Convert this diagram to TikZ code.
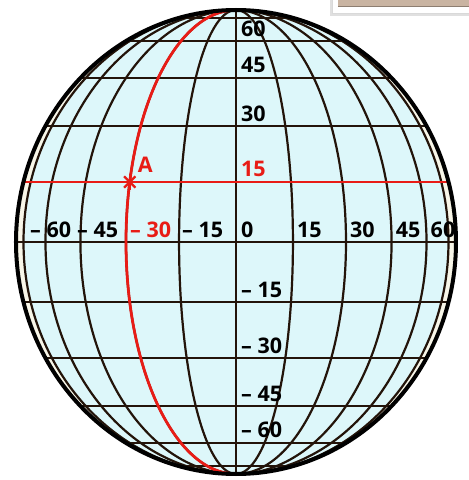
\documentclass[tikz,border=0pt]{standalone}
\usepackage{fontspec}
\setmainfont{Open Sans}
\usetikzlibrary{math}
\definecolor{gcyan}{RGB}{221,247,250}
\definecolor{gcream}{RGB}{248,246,232}
\definecolor{gline}{RGB}{35,20,10}
\definecolor{gred}{RGB}{232,28,22}
\definecolor{gtan}{RGB}{201,180,162}

\begin{document}
\begin{tikzpicture}[x=1pt,y=1pt,
  grid/.style={color=gline,line width=2.2pt},
  redline/.style={color=gred,line width=2.8pt},
  lbl/.style={font=\bfseries\fontsize{21.5}{24}\selectfont,inner sep=0pt,anchor=base west}]

\tikzmath{
\Rx = 220;
\Ry = 232;
\Rin = \Rx*sin(75);
}
\useasboundingbox (-236,-238) rectangle (233,242);

%caption box, cut off at the top
\fill[black!12] (94,226) rectangle (236,242);
\filldraw[fill=white,draw=black!15] (96,229) rectangle (240,246);
\fill[gtan] (102,235) rectangle (240,246);
\draw[color=gtan!70!black,line width=1pt] (102,235.5) -- (236,235.5);

%globe
\fill[gcream] (0,0) ellipse[x radius=\Rx,y radius=\Ry];
\fill[gcyan] (0,0) ellipse[x radius=\Rin,y radius=\Ry];

%parallels
\foreach \p in {-75,-60,...,75}
  \draw[grid] ({-\Rx*cos(\p)},{\Ry*sin(\p)}) -- ({\Rx*cos(\p)},{\Ry*sin(\p)});
%meridians
\draw[grid] (0,\Ry) -- (0,-\Ry);
\foreach \m in {15,30,...,75}{
  \draw[grid] (0,\Ry) arc[start angle=90,end angle=-90,x radius={\Rx*sin(\m)},y radius=\Ry];
  \draw[grid] (0,\Ry) arc[start angle=90,end angle=270,x radius={\Rx*sin(\m)},y radius=\Ry];
}

%point A at 15 / -30
\draw[redline] ({-\Rx*cos(15)},{\Ry*sin(15)}) -- ({\Rx*cos(15)},{\Ry*sin(15)});
\draw[redline] (0,\Ry) arc[start angle=90,end angle=270,x radius={\Rx*sin(30)},y radius=\Ry];
\coordinate (A) at ({-\Rx*sin(30)*cos(15)},{\Ry*sin(15)});
\foreach \a in {0,45,90,135}
  \draw[color=gred,line width=2.2pt] (A) ++(\a:8) -- ++(\a+180:16);
\node[lbl,text=gred] (labA) at ([shift={(8,9)}]A) {A};

%outline
\draw[color=black,line width=4pt] (0,0) ellipse[x radius=\Rx,y radius=\Ry];

%latitude labels
\foreach \p in {30,45,60}
  \node[lbl] (lat\p) at (5,{\Ry*sin(\p)+5}) {\p};
\node[lbl,text=gred] (lat15) at (5,{\Ry*sin(15)+5}) {15};
\node[lbl] (lat0) at (5,5) {0};
\foreach \p/\t in {-15/15,-30/30,-45/45,-60/60}
  \node[lbl] (latm\t) at (5,{\Ry*sin(\p)+5}) {– \t};

%longitude labels
\foreach \m in {15,30,45,60}
  \node[lbl] (lon\m) at ({\Rx*sin(\m)+4},5) {\m};
\foreach \x/\t in {-206/60,-159/45,-54/15}
  \node[lbl] (lonm\t) at (\x,5) {– \t};
\node[lbl,text=gred] (lonm30) at (-106,5) {– 30};

\end{tikzpicture}
\end{document}
